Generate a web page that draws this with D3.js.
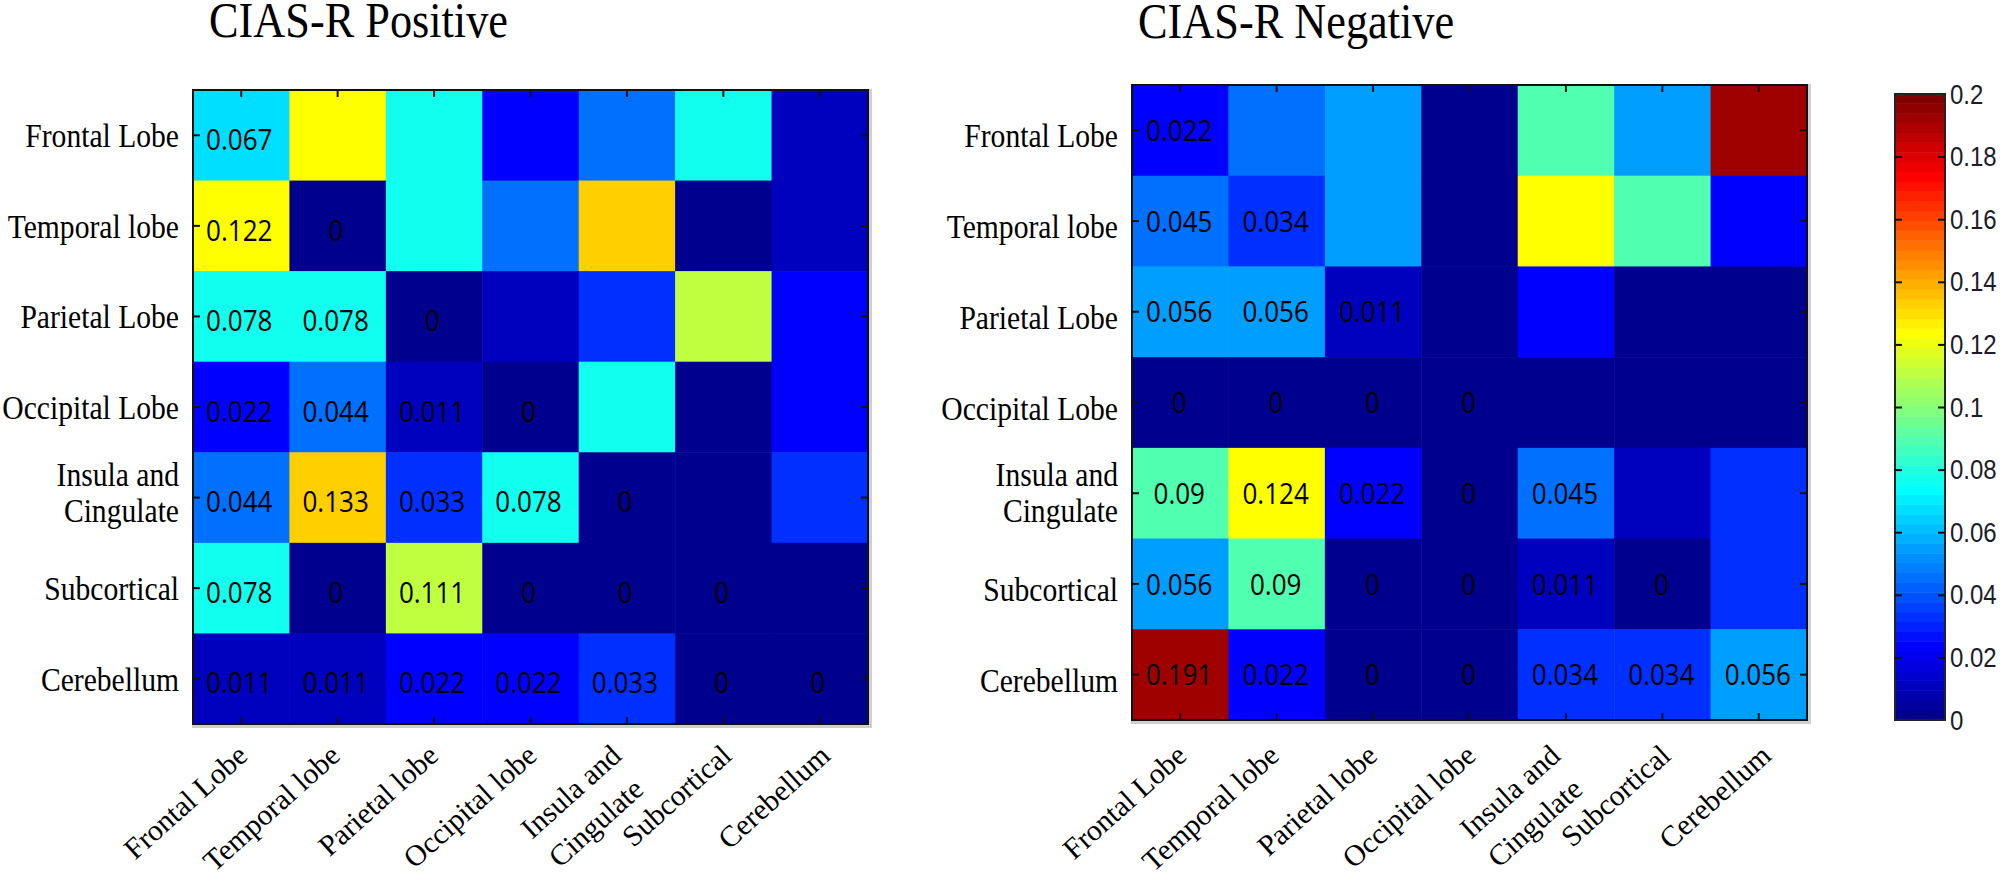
<!DOCTYPE html>
<html>
<head>
<meta charset="utf-8">
<script src="https://cdn.jsdelivr.net/npm/d3@7"></script>
<style>
  html, body { margin: 0; padding: 0; background: #fff; }
  svg { display: block; }
</style>
</head>
<body>
<svg id="chart" width="2000" height="873"></svg>
<script>
const rowLabels = ['Frontal Lobe', 'Temporal lobe', 'Parietal Lobe', 'Occipital Lobe', 'Insula and|Cingulate', 'Subcortical', 'Cerebellum'];
const colLabels = ['Frontal Lobe', 'Temporal lobe', 'Parietal lobe', 'Occipital lobe', 'Insula and|Cingulate', 'Subcortical', 'Cerebellum'];

const positiveValues = [
  [0.067, 0.122, 0.078, 0.022, 0.044, 0.078, 0.011],
  [0.122, 0, 0.078, 0.044, 0.133, 0, 0.011],
  [0.078, 0.078, 0, 0.011, 0.033, 0.111, 0.022],
  [0.022, 0.044, 0.011, 0, 0.078, 0, 0.022],
  [0.044, 0.133, 0.033, 0.078, 0, 0, 0.033],
  [0.078, 0, 0.111, 0, 0, 0, 0],
  [0.011, 0.011, 0.022, 0.022, 0.033, 0, 0]
];
const negativeValues = [
  [0.022, 0.045, 0.056, 0, 0.09, 0.056, 0.191],
  [0.045, 0.034, 0.056, 0, 0.124, 0.09, 0.022],
  [0.056, 0.056, 0.011, 0, 0.022, 0, 0],
  [0, 0, 0, 0, 0, 0, 0],
  [0.09, 0.124, 0.022, 0, 0.045, 0.011, 0.034],
  [0.056, 0.09, 0, 0, 0.011, 0, 0.034],
  [0.191, 0.022, 0, 0, 0.034, 0.034, 0.056]
];
const colorTicks = [0, 0.02, 0.04, 0.06, 0.08, 0.1, 0.12, 0.14, 0.16, 0.18, 0.2];

// matlab jet(64)
function jetPart(k) {
  if (k < 1 || k > 47) return 0;
  if (k <= 16) return k / 16;
  if (k <= 31) return 1;
  return (48 - k) / 16;
}
const jet = d3.range(1, 65).map(i =>
  d3.rgb(jetPart(i - 24) * 255, jetPart(i - 8) * 255, jetPart(i + 8) * 255).formatHex()
);
const color = d3.scaleQuantize().domain([0, 0.2]).range(jet);

const serif = '"Liberation Serif", serif';
const stretch = 1.13; // the source text is a little taller than it is wide
const svg = d3.select('#chart');

function drawPanel(o) {
  const x = d3.scaleBand().domain(d3.range(7)).range([o.left, o.right]);
  const y = d3.scaleBand().domain(d3.range(7)).range([o.top, o.bottom]);
  const g = svg.append('g');

  g.append('text')
    .attr('transform', `translate(${o.titleX},${o.titleY}) scale(1,${stretch})`)
    .style('font-family', serif)
    .style('font-size', '44.3px')
    .text(o.title);

  // soft grey edge under the frame
  g.append('rect')
    .attr('x', o.left - 1)
    .attr('y', o.top - 1)
    .attr('width', o.right - o.left + 5)
    .attr('height', o.bottom - o.top + 5)
    .attr('fill', '#cfcfcf');

  const cells = [];
  o.values.forEach((row, r) => row.forEach((v, c) => cells.push({ r, c, v })));

  g.selectAll('rect.cell')
    .data(cells)
    .join('rect')
    .attr('class', 'cell')
    .attr('x', d => x(d.c))
    .attr('y', d => y(d.r))
    .attr('width', x.bandwidth() + 0.5)
    .attr('height', y.bandwidth() + 0.5)
    .attr('fill', d => color(d.v));

  // only the lower triangle carries numbers
  g.selectAll('text.val')
    .data(cells.filter(d => d.c <= d.r))
    .join('text')
    .attr('class', 'val')
    .attr('transform', d => `translate(${x(d.c) + x.bandwidth() / 2 + o.valDx},${y(d.r) + y.bandwidth() / 2 + o.valDy}) scale(1,${stretch})`)
    .attr('text-anchor', 'middle')
    .attr('dominant-baseline', 'central')
    .style('font-family', '"Open Sans", sans-serif')
    .style('font-size', '26px')
    .attr('fill', '#000')
    .text(d => d.v);

  g.append('rect')
    .attr('x', o.left)
    .attr('y', o.top)
    .attr('width', o.right - o.left)
    .attr('height', o.bottom - o.top)
    .attr('fill', 'none')
    .attr('stroke', '#111')
    .attr('stroke-width', 2);

  // inward ticks on all four sides
  const axes = [
    [d3.axisTop(x).tickSize(-7), `translate(0,${o.top})`],
    [d3.axisBottom(x).tickSize(-7), `translate(0,${o.bottom})`],
    [d3.axisLeft(y).tickSize(-7), `translate(${o.left},0)`],
    [d3.axisRight(y).tickSize(-7), `translate(${o.right},0)`]
  ];
  axes.forEach(a => {
    const ax = g.append('g')
      .attr('transform', a[1])
      .call(a[0].tickSizeOuter(0).tickFormat(''));
    ax.select('.domain').remove();
    ax.selectAll('line').attr('stroke', '#111').attr('stroke-width', 2);
  });

  rowLabels.forEach((name, i) => {
    const lines = name.split('|');
    const rowY = y(i) + y.bandwidth() / 2 + (lines.length > 1 ? o.rowDy - 24 : o.rowDy);
    const t = g.append('text')
      .attr('transform', `translate(${o.left - 14},${rowY}) scale(1,${stretch})`)
      .attr('text-anchor', 'end')
      .style('font-family', serif)
      .style('font-size', '29.6px');
    lines.forEach((s, j) => {
      t.append('tspan')
        .attr('x', 0)
        .attr('dy', j ? 36 / stretch : 0)
        .text(s);
    });
  });

  colLabels.forEach((name, i) => {
    const lines = name.split('|');
    const t = g.append('text')
      .attr('transform', `translate(${x(i) + x.bandwidth() / 2 + o.colNudge[i]},${o.colY}) rotate(-42)`)
      .attr('text-anchor', 'end')
      .style('font-family', serif)
      .style('font-size', '29.6px');
    lines.forEach((s, j) => {
      t.append('tspan')
        .attr('x', j ? -6 : 0)
        .attr('dy', j ? 40 : 0)
        .text(s);
    });
  });
}

drawPanel({
  title: 'CIAS-R Positive', titleX: 209, titleY: 37,
  values: positiveValues,
  left: 193, right: 868, top: 90, bottom: 724,
  valDx: -2, valDy: 3, rowDy: 12, colY: 758,
  colNudge: [8, 4, 6, 8, -4, 10, 12]
});
drawPanel({
  title: 'CIAS-R Negative', titleX: 1138, titleY: 38,
  values: negativeValues,
  left: 1132, right: 1807, top: 85, bottom: 720,
  valDx: -1, valDy: -1, rowDy: 17, colY: 758,
  colNudge: [8, 4, 6, 8, -4, 10, 14]
});

// colorbar
const barLeft = 1895, barRight = 1945, barTop = 94, barBottom = 720;
const barY = d3.scaleLinear().domain([0, 0.2]).range([barBottom, barTop]);
const barBand = d3.scaleBand().domain(d3.range(64)).range([barBottom, barTop]);
const bar = svg.append('g');

bar.selectAll('rect.step')
  .data(jet)
  .join('rect')
  .attr('class', 'step')
  .attr('x', barLeft)
  .attr('y', (d, i) => barBand(i) - 0.5)
  .attr('width', barRight - barLeft)
  .attr('height', barBand.bandwidth() + 0.5)
  .attr('fill', d => d);

bar.append('rect')
  .attr('x', barLeft)
  .attr('y', barTop)
  .attr('width', barRight - barLeft)
  .attr('height', barBottom - barTop)
  .attr('fill', 'none')
  .attr('stroke', '#222')
  .attr('stroke-width', 2);

const innerTicks = colorTicks.filter(t => t > 0 && t < 0.2);
bar.append('g')
  .attr('transform', `translate(${barLeft},0)`)
  .call(d3.axisLeft(barY).tickValues(innerTicks).tickSize(-7).tickSizeOuter(0).tickFormat(''))
  .call(a => a.select('.domain').remove())
  .selectAll('line').attr('stroke', '#111').attr('stroke-width', 2);
bar.append('g')
  .attr('transform', `translate(${barRight},0)`)
  .call(d3.axisRight(barY).tickValues(innerTicks).tickSize(-7).tickSizeOuter(0).tickFormat(''))
  .call(a => a.select('.domain').remove())
  .selectAll('line').attr('stroke', '#111').attr('stroke-width', 2);

bar.selectAll('text.cb')
  .data(colorTicks)
  .join('text')
  .attr('class', 'cb')
  .attr('transform', d => `translate(${barRight + 5},${barY(d)}) scale(1,${stretch})`)
  .attr('dominant-baseline', 'central')
  .style('font-family', '"Liberation Sans", sans-serif')
  .style('font-size', '24px')
  .attr('fill', '#1c1c2a')
  .text(d => d);
</script>
</body>
</html>
